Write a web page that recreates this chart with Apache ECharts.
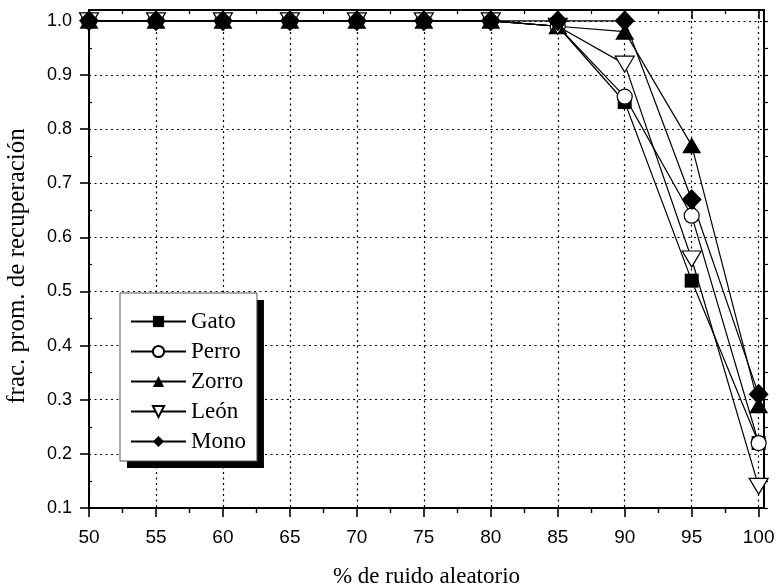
<!DOCTYPE html>
<html>
<head>
<meta charset="utf-8">
<script src="https://cdn.jsdelivr.net/npm/echarts@6/dist/echarts.min.js"></script>
<style>
  html, body { margin: 0; padding: 0; background: #fff; }
  #chart { width: 777px; height: 587px; }
</style>
</head>
<body>
<div id="chart"></div>
<script>
// Noise level (%) on the horizontal axis
const noise = [50, 55, 60, 65, 70, 75, 80, 85, 90, 95, 100];

// Mean recovered fraction for each stored pattern
const gato  = [1, 1, 1, 1, 1, 1, 1, 0.99, 0.85, 0.52, 0.22];
const perro = [1, 1, 1, 1, 1, 1, 1, 0.99, 0.86, 0.64, 0.22];
const zorro = [1, 1, 1, 1, 1, 1, 1, 0.99, 0.98, 0.77, 0.29];
const leon  = [1, 1, 1, 1, 1, 1, 1, 0.99, 0.92, 0.56, 0.14];
const mono  = [1, 1, 1, 1, 1, 1, 1, 1.00, 1.00, 0.67, 0.31];

const names = ['Gato', 'Perro', 'Zorro', 'León', 'Mono'];

// Tick positions
const xMajor = [50, 55, 60, 65, 70, 75, 80, 85, 90, 95, 100];
const xMinor = [52.5, 57.5, 62.5, 67.5, 72.5, 77.5, 82.5, 87.5, 92.5, 97.5];
const yMajor = [0.1, 0.2, 0.3, 0.4, 0.5, 0.6, 0.7, 0.8, 0.9, 1.0];
const yMinor = [0.15, 0.25, 0.35, 0.45, 0.55, 0.65, 0.75, 0.85, 0.95];
const yAll = [0.1, 0.15, 0.2, 0.25, 0.3, 0.35, 0.4, 0.45, 0.5, 0.55, 0.6, 0.65, 0.7, 0.75, 0.8, 0.85, 0.9, 0.95, 1.0];

const SERIF = '"Liberation Serif", "Times New Roman", serif';
const SANS = '"Liberation Sans", Arial, sans-serif';

const chart = echarts.init(document.getElementById('chart'), null, { renderer: 'canvas' });

const X_MIN = 50, X_MAX = 100.4, Y_MIN = 0.1, Y_MAX = 1.02;

function pairs(ys) {
  return noise.map((x, i) => [x, ys[i]]);
}

function makeSeries(name, ys, symbol, size, filled, rotate) {
  return {
    name: name,
    type: 'line',
    data: pairs(ys),
    symbol: symbol,
    symbolSize: size,
    symbolRotate: rotate || 0,
    showAllSymbol: true,
    clip: false,
    lineStyle: { color: '#000', width: 1.2 },
    itemStyle: {
      color: filled ? '#000' : '#fff',
      borderColor: '#000',
      borderWidth: filled ? 0 : 1.2,
      opacity: 1
    },
    emphasis: { disabled: true },
    z: 3
  };
}

const dotted = { color: '#000', width: 1.2, type: [2, 3.5] };

// Shared legend layout; the first copy paints the white box with its hard
// black drop shadow, the second copy adds the thin frame on top of it.
const legendBase = {
  orient: 'vertical',
  left: 120, top: 293,
  padding: [17, 11, 8, 10],
  itemWidth: 55, itemHeight: 14, itemGap: 7,
  textStyle: { fontFamily: SERIF, fontSize: 23, color: '#000' },
  selectedMode: false,
  data: names
};

const option = {
  animation: false,
  backgroundColor: '#fff',
  grid: {
    left: 89, top: 10, right: 13, bottom: 79,
    outerBoundsMode: 'none',
    containLabel: false,
    show: true, borderColor: '#000', borderWidth: 2,
    backgroundColor: 'transparent'
  },
  legend: [
    Object.assign({}, legendBase, {
      backgroundColor: '#fff', borderWidth: 0,
      shadowColor: '#000', shadowBlur: 0, shadowOffsetX: 7, shadowOffsetY: 7,
      z: 5
    }),
    Object.assign({}, legendBase, {
      backgroundColor: 'transparent', borderColor: '#555', borderWidth: 1,
      textStyle: Object.assign({}, legendBase.textStyle, { color: 'rgba(0,0,0,0)' }),
      itemStyle: { opacity: 0 },
      lineStyle: { opacity: 0 },
      z: 6
    })
  ],
  xAxis: [
    {
      type: 'value', min: X_MIN, max: X_MAX, interval: 5, position: 'bottom',
      name: '% de ruido aleatorio', nameLocation: 'middle', nameGap: 57,
      nameTextStyle: { fontFamily: SERIF, fontSize: 23, color: '#000' },
      axisLine: { show: true, onZero: false, lineStyle: { color: '#000', width: 2 } },
      axisTick: { show: true, customValues: xMajor, length: 9, lineStyle: { color: '#000', width: 1.6 } },
      axisLabel: { customValues: xMajor, margin: 20, fontFamily: SANS, fontSize: 19, color: '#000' },
      splitLine: { show: true, lineStyle: dotted }
    },
    {
      type: 'value', min: X_MIN, max: X_MAX, interval: 5, position: 'bottom',
      axisLine: { show: false },
      axisTick: { show: true, customValues: xMinor, length: 5, lineStyle: { color: '#000', width: 1.4 } },
      axisLabel: { show: false },
      splitLine: { show: false }
    },
    {
      type: 'value', min: X_MIN, max: X_MAX, interval: 5, position: 'top',
      axisLine: { show: false },
      axisTick: { show: true, inside: true, customValues: xMajor, length: 9, lineStyle: { color: '#000', width: 1.6 } },
      axisLabel: { show: false },
      splitLine: { show: false }
    },
    {
      type: 'value', min: X_MIN, max: X_MAX, interval: 5, position: 'top',
      axisLine: { show: false },
      axisTick: { show: true, inside: true, customValues: xMinor, length: 4, lineStyle: { color: '#000', width: 1.2 } },
      axisLabel: { show: false },
      splitLine: { show: false }
    }
  ],
  yAxis: [
    {
      type: 'value', min: Y_MIN, max: Y_MAX, interval: 0.1, position: 'left',
      name: 'frac. prom. de recuperación', nameLocation: 'middle', nameGap: 59,
      nameTextStyle: { fontFamily: SERIF, fontSize: 25, color: '#000', padding: [0, 14, 0, 0] },
      axisLine: { show: true, onZero: false, lineStyle: { color: '#000', width: 2 } },
      axisTick: { show: true, customValues: yMajor, length: 9, lineStyle: { color: '#000', width: 1.6 } },
      axisLabel: {
        customValues: yMajor, margin: 17, fontFamily: SANS, fontSize: 18, color: '#000',
        formatter: v => Number(v).toFixed(1)
      },
      splitLine: { show: true, lineStyle: dotted }
    },
    {
      type: 'value', min: Y_MIN, max: Y_MAX, interval: 0.1, position: 'left',
      axisLine: { show: false },
      axisTick: { show: true, inside: true, customValues: yMinor, length: 3, lineStyle: { color: '#000', width: 1.2 } },
      axisLabel: { show: false },
      splitLine: { show: false }
    },
    {
      type: 'value', min: Y_MIN, max: Y_MAX, interval: 0.1, position: 'right',
      axisLine: { show: false },
      axisTick: { show: true, customValues: yAll, length: 4, lineStyle: { color: '#000', width: 1.2 } },
      axisLabel: { show: false },
      splitLine: { show: false }
    }
  ],
  series: [
    makeSeries('Gato', gato, 'rect', 14, true),
    makeSeries('Perro', perro, 'circle', 15, false),
    makeSeries('Zorro', zorro, 'triangle', [19, 16], true),
    makeSeries('León', leon, 'triangle', [19, 16], false, 180),
    makeSeries('Mono', mono, 'diamond', [20, 21], true)
  ]
};

chart.setOption(option);
</script>
</body>
</html>
